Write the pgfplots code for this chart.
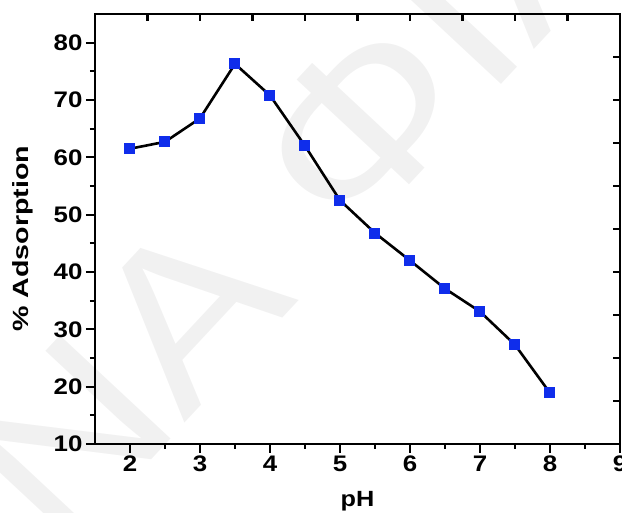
\documentclass[border=0pt]{standalone}
\usepackage{fontspec}
\setmainfont[FakeStretch=1.15]{Liberation Sans}
\newfontfamily\widefont[FakeStretch=1.3]{Liberation Sans}
\usepackage{pgfplots}
\pgfplotsset{compat=1.18}
\definecolor{markblue}{RGB}{15,45,235}
\definecolor{wmark}{RGB}{241,241,241}

\begin{document}
\begin{tikzpicture}[x=1pt,y=1pt]
\useasboundingbox (-95,-69) rectangle (527,444);

% faint watermark
\node[rotate=47, text=wmark, font=\fontsize{220}{220}\selectfont, inner sep=0pt]
  at (180,228) {INA ΦΙΛ};

\begin{axis}[
    at={(0,0)}, anchor=south west,
    scale only axis,
    width=525pt, height=430pt,
    xmin=1.5, xmax=9,
    ymin=10, ymax=85,
    xtick={2,3,...,9},
    ytick={10,20,...,80},
    minor x tick num=1,
    minor y tick num=1,
    xtick pos=left, ytick pos=left,
    tick align=outside,
    major tick length=9pt,
    minor tick length=5pt,
    every tick/.style={black, line width=2.2pt},
    axis line style={black, line width=2.8pt},
    ticklabel style={font=\fontsize{22.5}{26}\selectfont\bfseries},
    xticklabel style={yshift=1pt},
    /pgf/number format/assume math mode=true,
    xlabel={pH},
    ylabel={\widefont\% Adsorption},
    label style={font=\fontsize{22}{26}\selectfont\bfseries},
    xlabel style={yshift=-13pt},
    ylabel style={at={(axis description cs:-0.137,0.477)}, anchor=center},
]
\addplot[black, line width=2.6pt, mark=square*, mark size=5pt,
         mark options={draw=markblue, fill=markblue, line width=0pt}]
coordinates {
    (2.0, 61.5)
    (2.5, 62.7)
    (3.0, 66.8)
    (3.5, 76.3)
    (4.0, 70.8)
    (4.5, 62.0)
    (5.0, 52.5)
    (5.5, 46.8)
    (6.0, 42.0)
    (6.5, 37.1)
    (7.0, 33.1)
    (7.5, 27.3)
    (8.0, 18.9)
};
\end{axis}

% opposite axes: inward ticks, no labels
\begin{axis}[
    at={(0,0)}, anchor=south west,
    scale only axis,
    width=525pt, height=430pt,
    xmin=1.5, xmax=9,
    ymin=10, ymax=85,
    xtick={2.25,3,...,8.25},
    ytick={17.5,25,...,77.5},
    xticklabels={}, yticklabels={},
    xtick pos=right, ytick pos=right,
    tick align=inside,
    major tick length=7pt,
    every tick/.style={black, line width=2.2pt},
    axis line style={black, line width=2.8pt},
]
\end{axis}
\end{tikzpicture}
\end{document}
